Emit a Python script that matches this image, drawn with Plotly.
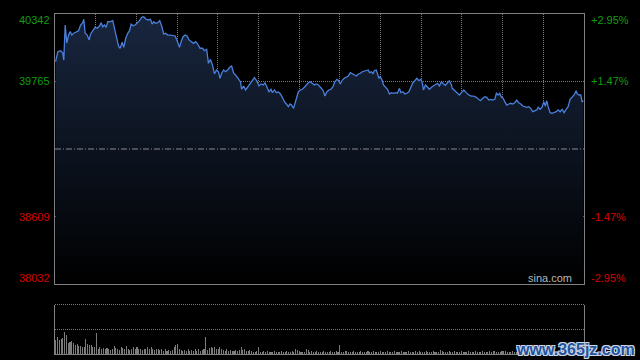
import plotly.graph_objects as go

# ---------------- data ----------------
prev_close = 39187
y_min, y_max = 38032, 40342

# time index (chart units across the session) and index level
t = [0.3, 1.4, 2.8, 3.9, 4.4, 5.1, 5.9, 6.8, 7.6, 8.4, 9.4, 10.6, 11.8, 12.8, 13.9, 14.4, 15.1, 16.1, 17.1, 17.8,
     18.9, 20.1, 21.1, 22.3, 23.1, 23.9, 24.8, 25.6, 26.4, 27.8, 28.9, 29.8, 30.8, 31.8, 32.6, 33.6, 34.4, 35.4, 36.4, 37.3,
     38.1, 39.1, 40.1, 41.1, 42.3, 43.4, 44.4, 45.6, 46.8, 47.8, 48.6, 49.4, 50.3, 51.4, 52.4, 53.4, 54.4, 55.4, 56.4, 57.8,
     58.9, 60.1, 61.1, 62.3, 63.1, 64.1, 65.1, 66.1, 67.1,
     68.1, 69.3, 70.4, 71.4, 72.6, 73.8, 74.8, 75.9, 76.8, 77.8, 78.8, 79.8, 80.8, 81.8, 82.6, 83.4, 84.4, 85.4, 86.4, 87.4,
     88.4, 89.4, 90.4, 91.8, 92.8, 93.4, 94.4, 95.4, 96.4, 97.6, 98.8, 99.8, 100.9, 102.1, 103.1, 104.3, 105.1, 106.1, 107.1, 108.1,
     108.8, 109.8, 110.8, 111.8, 112.8, 113.8, 114.8, 115.8, 116.8, 117.6, 118.4, 119.4, 120.1, 120.9, 121.8, 122.8, 123.8, 124.8, 125.8, 126.8,
     127.8, 128.8, 129.8, 130.8, 131.8, 132.8,
     134.1, 135.1, 136.1, 137.1, 138.1, 139.1, 140.1, 141.1, 141.9, 142.8, 143.8, 144.8, 145.8, 146.8, 147.8, 148.8, 149.8, 150.8, 151.8, 152.8,
     153.8, 154.8, 155.8, 156.8, 157.4, 158.4, 159.1, 159.8, 160.8, 161.4, 162.1, 162.8, 163.8, 164.4, 165.4, 166.4, 167.4, 168.4, 169.4, 170.4,
     171.4, 172.4, 173.1, 174.1, 175.1, 176.1, 177.1, 178.1, 179.1, 180.1, 181.1, 182.1, 183.1, 183.8, 184.4, 185.4, 186.4, 187.4, 188.4, 189.4,
     190.4, 191.4, 192.4, 193.4, 194.4, 195.4, 196.4, 197.4, 198.4,
     198.8, 200.1, 201.3, 202.4, 203.4, 204.6, 205.8, 207.1, 208.4, 209.6, 210.8, 211.8, 212.9, 214.1, 215.1, 216.1, 217.1, 218.1, 219.1, 220.1,
     220.9, 221.8, 222.6, 223.4, 224.3, 225.1, 226.1, 227.1, 228.1, 229.1, 230.1, 231.1, 232.1, 233.1, 234.1, 235.1, 236.1, 237.1, 238.1, 239.1,
     240.1, 241.1, 241.8, 242.8, 243.8, 244.6, 245.4, 246.1, 246.8, 247.8, 248.8, 249.8, 250.8, 251.8, 252.8, 253.8, 254.8, 255.8, 256.8, 257.8,
     258.8, 259.8, 260.8, 261.4, 262.4, 263.1, 263.8, 264.4]

price = [39934, 40019, 40028, 40008, 39948, 40248, 40094, 40162, 40191, 40162, 40177, 40191, 40199, 40248, 40268, 40297, 40177, 40162, 40120, 40171,
         40199, 40228, 40220, 40239, 40268, 40233, 40248, 40228, 40276, 40276, 40285, 40220, 40134, 40068, 40049, 40100, 40057, 40134, 40177, 40199,
         40256, 40242, 40248, 40262, 40285, 40314, 40319, 40297, 40291, 40297, 40256, 40276, 40262, 40268, 40285, 40239, 40171, 40177, 40162, 40162,
         40160, 40154, 40114, 40057, 40105, 40148, 40162, 40154, 40120,
         40105, 40091, 40105, 40085, 40049, 40049, 40028, 40040, 39920, 39954, 39906, 39829, 39863, 39848, 39792, 39835, 39863, 39848, 39863, 39886,
         39897, 39835, 39820, 39792, 39763, 39698, 39726, 39692, 39715, 39743, 39777, 39797, 39771, 39726, 39743, 39735, 39754, 39720, 39677, 39698,
         39669, 39692, 39669, 39675, 39658, 39629, 39592, 39572, 39549, 39572, 39563, 39535, 39578, 39629, 39677, 39692, 39698, 39715, 39735, 39754,
         39763, 39749, 39735, 39743, 39735, 39715,
         39692, 39640, 39677, 39692, 39698, 39720, 39763, 39783, 39771, 39743, 39777, 39792, 39800, 39812, 39840, 39829, 39820, 39812, 39829, 39835,
         39848, 39854, 39857, 39863, 39840, 39848, 39829, 39857, 39863, 39835, 39792, 39806, 39771, 39735, 39715, 39698, 39658, 39669, 39664, 39669,
         39664, 39706, 39669, 39677, 39658, 39664, 39677, 39720, 39754, 39771, 39792, 39771, 39783, 39754, 39692, 39735, 39715, 39698, 39715, 39726,
         39735, 39749, 39726, 39763, 39743, 39732, 39754, 39771, 39735,
         39706, 39686, 39669, 39649, 39669, 39692, 39669, 39649, 39640, 39640, 39629, 39612, 39600, 39621, 39634, 39629, 39606, 39612, 39606, 39612,
         39664, 39649, 39664, 39629, 39621, 39592, 39563, 39572, 39578, 39572, 39583, 39606, 39583, 39572, 39555, 39549, 39544, 39549, 39535, 39506,
         39515, 39521, 39544, 39527, 39544, 39592, 39555, 39600, 39549, 39498, 39492, 39498, 39506, 39521, 39506, 39527, 39498, 39527, 39549, 39612,
         39629, 39649, 39686, 39658, 39649, 39649, 39592, 39600]

# volume per minute (arbitrary units; the middle volume grid line = 1000)
volume = [565, 700, 565, 590, 630, 900, 766, 457, 497, 537,
          430, 363, 403, 322, 322, 296, 296, 590, 403, 363,
          350, 296, 269, 833, 188, 269, 188, 228, 188, 228,
          215, 161, 215, 322, 228, 215, 161, 269, 228, 188,
          322, 215, 161, 215, 269, 188, 269, 215, 188, 161,
          215, 188, 269, 215, 269, 188, 161, 215, 188, 161,
          188, 134, 188, 134, 161, 134, 161, 296, 376, 403,
          188, 161, 134, 161, 134, 188, 134, 161, 134, 188,
          134, 188, 134, 161, 188, 672, 161, 228, 269, 228,
          269, 188, 188, 269, 215, 161, 134, 188, 134, 161,
          134, 134, 161, 134, 161, 296, 161, 188, 134, 134,
          161, 134,
          94, 75, 134, 269, 94, 75, 110, 94, 134, 94,
          75, 94, 110, 94, 75, 94, 110, 75, 94, 110,
          94, 75, 110, 94, 188, 161, 110, 94, 75, 94,
          188, 161, 94, 110, 75, 94, 110, 94, 75, 94,
          110, 94, 75, 94, 110, 94, 75, 110, 94, 349,
          94, 75, 110, 134, 94, 75, 94, 110, 94, 75,
          94, 110, 94, 75, 94, 110, 75, 94, 110, 94,
          75, 94, 110, 94, 75, 94, 134, 94, 75, 94,
          110, 94, 75, 94, 110, 94, 75, 94, 110, 94,
          75, 94, 110, 94, 134, 94, 75, 94, 110, 94,
          75, 94, 110, 94, 75, 94, 175, 110, 94, 75,
          94, 110,
          94, 75, 110, 94, 75, 94, 110, 94, 75, 94,
          110, 94, 75, 94, 110, 94, 75, 94, 110, 94,
          75, 94, 110, 94, 134, 110, 94, 75, 94, 110,
          134, 110, 94, 75, 94, 110, 94, 75, 94, 110,
          94, 75, 94, 110, 94, 75, 94, 110, 94, 75,
          94, 110, 94, 75, 94, 110, 94, 75, 94, 110,
          94, 75, 94, 110, 94, 134, 110, 94, 75, 94,
          110, 94, 75, 94, 110, 134]

left_vals = [40342, 39765, 38609, 38032]
left_labels = ["40342", "39765", "38609", "38032"]
right_labels = ["+2.95%", "+1.47%", "-1.47%", "-2.95%"]
label_colors = ["#129c12", "#129c12", "#d80000", "#d80000"]
t_end = 264.75
n_vgrid = 13

# ---------------- figure ----------------
GRID = "#7a7a7a"
FRAME = "#808080"
FONT = "Liberation Sans, Arial, sans-serif"

fig = go.Figure()
fig.add_trace(go.Scatter(
    x=t, y=price, mode="lines",
    line=dict(color="#4a80dc", width=1.3),
    fill="tozeroy",
    fillgradient=dict(type="vertical",
                      colorscale=[[0, "#000000"], [1, "#18263f"]],
                      start=y_min, stop=y_max),
    xaxis="x", yaxis="y", hoverinfo="skip", showlegend=False))

fig.add_trace(go.Bar(
    x=list(range(len(volume))), y=volume,
    marker=dict(color="#7c7c7c", line=dict(width=0)),
    width=0.6, xaxis="x2", yaxis="y2", hoverinfo="skip", showlegend=False))

main_bottom = (354 - 284) / 340.0
vol_top = (354 - 304.5) / 340.0

fig.update_layout(
    width=640, height=360,
    margin=dict(l=55, r=56, t=14, b=6),
    paper_bgcolor="#000000", plot_bgcolor="#000000",
    bargap=0,
    xaxis=dict(domain=[0, 1], range=[0, t_end], anchor="y",
               tick0=0, dtick=t_end / n_vgrid,
               showgrid=True, gridcolor=GRID, griddash="1px,1px", gridwidth=1,
               showticklabels=False, ticks="", zeroline=False,
               showline=True, mirror=True, linecolor=FRAME, linewidth=1),
    yaxis=dict(domain=[main_bottom, 1], range=[y_min, y_max], anchor="x",
               tickvals=[38609, 39765],
               showgrid=True, gridcolor=GRID, griddash="1px,1px", gridwidth=1,
               showticklabels=False, ticks="", zeroline=False,
               showline=True, mirror=True, linecolor=FRAME, linewidth=1),
    xaxis2=dict(domain=[0, 1], range=[-0.5, len(volume) - 0.5], anchor="y2",
                showgrid=False, showticklabels=False, ticks="", zeroline=False,
                showline=True, mirror=False, linecolor=FRAME, linewidth=1),
    yaxis2=dict(domain=[0, vol_top], range=[0, 2000], anchor="x2",
                tickvals=[1000],
                showgrid=True, gridcolor=GRID, griddash="1px,1px", gridwidth=1,
                showticklabels=False, ticks="", zeroline=False,
                showline=True, mirror=True, linecolor=FRAME, linewidth=1),
    shapes=[
        dict(type="line", xref="x domain", yref="y", x0=0, x1=1,
             y0=prev_close, y1=prev_close,
             line=dict(color="#8a8a8a", width=1, dash="6px,2px,1px,2px")),
        dict(type="line", xref="x2 domain", yref="y2 domain", x0=0, x1=1,
             y0=1, y1=1, line=dict(color=GRID, width=1, dash="1px,1px")),
    ],
)

ann = []
shifts = [-6, 0, 0, 6]
for v, lt, rt, c, s in zip(left_vals, left_labels, right_labels, label_colors, shifts):
    ann.append(dict(xref="paper", yref="y", x=0, y=v, xanchor="right", yanchor="middle",
                    xshift=-3, yshift=s, text=lt, showarrow=False,
                    font=dict(family=FONT, size=11, color=c)))
    ann.append(dict(xref="paper", yref="y", x=1, y=v, xanchor="left", yanchor="middle",
                    xshift=5, yshift=s, text=rt, showarrow=False,
                    font=dict(family=FONT, size=11, color=c)))
ann.append(dict(xref="paper", yref="y", x=(574 - 55) / 529.0, y=y_min,
                xanchor="right", yanchor="bottom", yshift=-2,
                text="sina.com", showarrow=False,
                font=dict(family=FONT, size=11, color="#b8b8b8")))
ann.append(dict(xref="paper", yref="paper", x=(575 - 55) / 529.0, y=(354 - 349) / 340.0,
                xanchor="center", yanchor="middle",
                text="<b>www.365jz.com</b>", showarrow=False,
                font=dict(family=FONT, size=16, color="#24539e",
                          shadow="1px 1px 0 #cfd8e6, -1px -1px 0 #cfd8e6, 1px -1px 0 #cfd8e6, -1px 1px 0 #cfd8e6")))
fig.update_layout(annotations=ann)

fig.write_html("out.html",
               config={"displayModeBar": False, "staticPlot": True},
               post_script="document.body.style.margin='0';document.body.style.background='#000';")
